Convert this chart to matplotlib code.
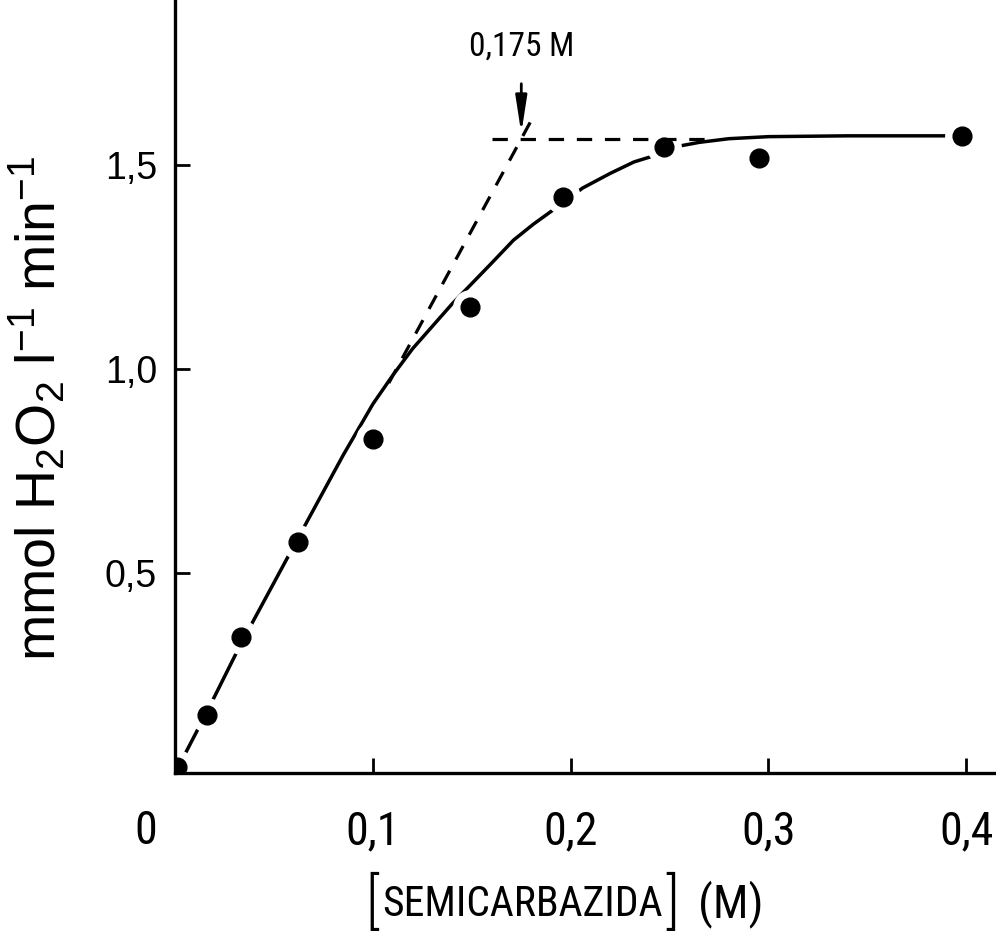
import matplotlib
matplotlib.use("Agg")
import matplotlib.pyplot as plt
from matplotlib import font_manager as fm

# Measured rate of H2O2 consumption vs semicarbazide concentration
conc = [0.001, 0.016, 0.033, 0.062, 0.100, 0.149, 0.196, 0.247, 0.295, 0.398]
rate = [0.025, 0.152, 0.343, 0.576, 0.828, 1.152, 1.422, 1.544, 1.517, 1.571]

# Hand-fitted saturation curve
fit_x = [0.001, 0.016, 0.033, 0.062, 0.085, 0.100, 0.110, 0.120, 0.130, 0.140,
         0.150, 0.160, 0.171, 0.181, 0.191, 0.206, 0.220, 0.232, 0.240, 0.247,
         0.255, 0.265, 0.280, 0.300, 0.340, 0.398]
fit_y = [0.020, 0.160, 0.325, 0.585, 0.790, 0.915, 0.985, 1.050, 1.105, 1.160,
         1.210, 1.260, 1.316, 1.355, 1.390, 1.444, 1.480, 1.508, 1.520, 1.535,
         1.547, 1.556, 1.565, 1.570, 1.572, 1.572]

# Initial-slope tangent and plateau asymptote
tangent_x = [0.108, 0.1795]
tangent_y = [0.966, 1.605]
plateau_x = [0.160, 0.272]
plateau_y = [1.565, 1.565]
break_x = 0.175
break_label = "0,175 M"

xticks = [0.1, 0.2, 0.3, 0.4]
xticklabels = ["0,1", "0,2", "0,3", "0,4"]
yticks = [0.5, 1.0, 1.5]
yticklabels = ["0,5", "1,0", "1,5"]

names = {f.name for f in fm.fontManager.ttflist}
narrow = next((n for n in ["Roboto Condensed", "Liberation Sans Narrow",
                           "Open Sans Condensed", "Liberation Sans"] if n in names),
              "DejaVu Sans")
regular = "Liberation Sans" if "Liberation Sans" in names else "DejaVu Sans"

plt.rcParams["mathtext.fontset"] = "custom"
plt.rcParams["mathtext.rm"] = regular
plt.rcParams["mathtext.it"] = regular

W, H = 996, 943
fig = plt.figure(figsize=(W / 100, H / 100), dpi=100)
ax = fig.add_axes([175.3 / W, 1 - 773 / H, 1 - 175.3 / W, 773 / H])
ax.set_xlim(0, 0.4151)
ax.set_ylim(0.01, 1.905)

for s in ["top", "right"]:
    ax.spines[s].set_visible(False)
for s in ["left", "bottom"]:
    ax.spines[s].set_linewidth(2.4)
    ax.spines[s].set_zorder(2.6)

ax.set_xticks(xticks)
ax.set_xticklabels(xticklabels, fontfamily=narrow, fontsize=33)
ax.set_yticks(yticks)
ax.set_yticklabels(yticklabels, fontfamily=regular, fontsize=27)
ax.tick_params(axis="x", direction="in", length=11, width=2.0, pad=26)
ax.tick_params(axis="y", direction="in", length=11, width=2.0, pad=13)

ax.annotate("0", xy=(0, 0), xycoords=("data", "axes fraction"),
            xytext=(-21, -26), textcoords="offset points",
            ha="center", va="top", fontfamily=narrow, fontsize=33)

ax.plot(fit_x, fit_y, color="black", lw=2.5, zorder=2.1, solid_capstyle="butt")
# white halo breaks the fitted curve around each point
ax.plot(conc, rate, "o", ms=24, color="white", mec="white", zorder=2.2)
ax.plot(tangent_x, tangent_y, color="black", lw=2.3, ls=(0, (4.8, 4.0)),
        zorder=2.3, dash_capstyle="butt")
ax.plot(plateau_x, plateau_y, color="black", lw=2.3, ls=(0, (4.8, 4.0)),
        zorder=2.3, dash_capstyle="butt")
ax.plot(conc, rate, "o", ms=13.5, color="black", mec="black", zorder=3)

ax.annotate(break_label, xy=(break_x, 1.578), xytext=(break_x, 1.79),
            ha="center", va="center", fontfamily=narrow, fontsize=24,
            arrowprops=dict(arrowstyle="-|>,head_length=1.1,head_width=0.17",
                            mutation_scale=20, color="black", lw=2.0,
                            shrinkA=13, shrinkB=0))

ax.set_ylabel(r"mmol H$_2$O$_2$ l$^{-1}$ min$^{-1}$", fontfamily=regular,
              fontsize=40, va="center")
ax.yaxis.set_label_coords(-0.168, 0.472)

# x-axis title with tall square brackets around the compound name
name = fig.text(522 / W, 1 - 904 / H, "SEMICARBAZIDA", ha="center", va="center",
                fontfamily=narrow, fontsize=30)
fig.canvas.draw()
bb = name.get_window_extent(fig.canvas.get_renderer())
cy = (bb.y0 + bb.y1) / 2
fig.text((bb.x0 - 3) / W, cy / H, "[", ha="right", va="center",
         fontfamily=narrow, fontsize=44, fontweight="light")
fig.text((bb.x1 + 3) / W, cy / H, "]", ha="left", va="center",
         fontfamily=narrow, fontsize=44, fontweight="light")
fig.text((bb.x1 + 36) / W, cy / H, "(M)", ha="left", va="center",
         fontfamily=narrow, fontsize=34)

fig.savefig("out.png", dpi=100)
